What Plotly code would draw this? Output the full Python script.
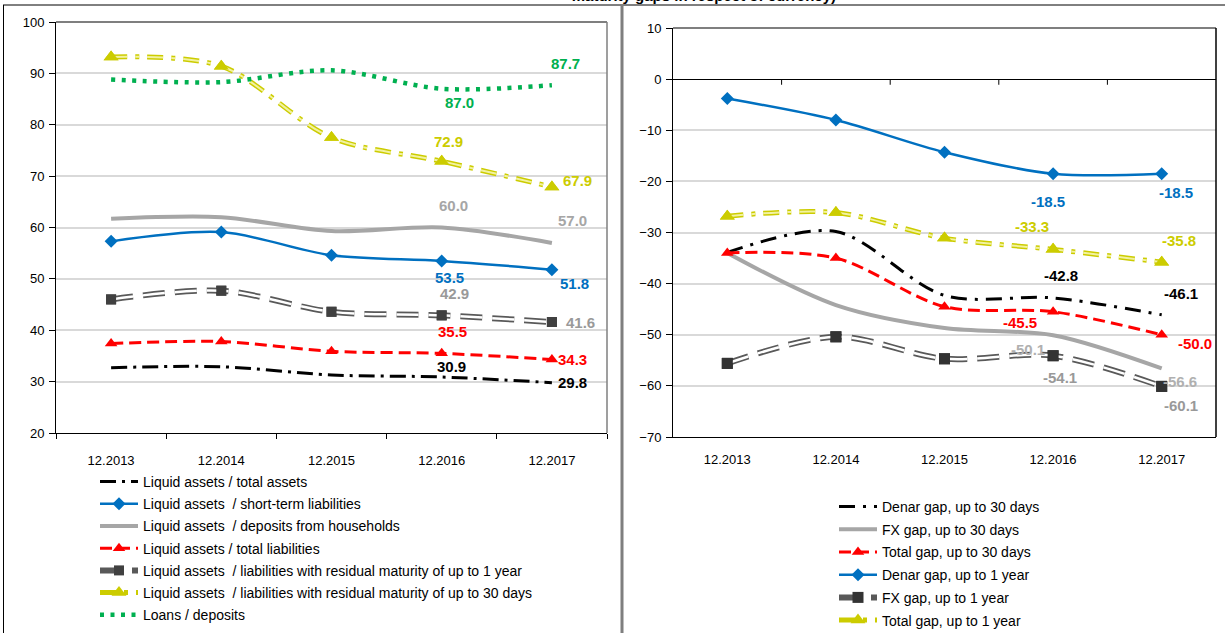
import plotly.graph_objects as go

W, H = 1225, 633
H_FIG = 660  # figure slightly taller than the window; the window shows the top 633 px

categories = ["12.2013", "12.2014", "12.2015", "12.2016", "12.2017"]

# Left chart series (%)
la_total_assets = [32.7, 32.9, 31.3, 30.9, 29.8]
la_short_term = [57.3, 59.1, 54.6, 53.5, 51.8]
la_households = [61.7, 62.0, 59.3, 60.0, 57.0]
la_total_liab = [37.4, 37.8, 35.9, 35.5, 34.3]
la_liab_1y = [46.0, 47.7, 43.6, 42.9, 41.6]
la_liab_30d = [93.2, 91.4, 77.5, 72.9, 67.9]
loans_deposits = [88.8, 88.3, 90.6, 87.0, 87.7]

# Right chart series (gaps)
denar_30 = [-33.9, -29.8, -42.3, -42.8, -46.1]
fx_30 = [-34.0, -44.2, -48.7, -50.1, -56.6]
total_30 = [-34.0, -35.0, -44.5, -45.5, -50.0]
denar_1y = [-3.8, -8.0, -14.3, -18.5, -18.5]
fx_1y = [-55.6, -50.4, -54.7, -54.1, -60.1]
total_1y = [-26.8, -26.1, -31.1, -33.3, -35.8]

FONT = "Liberation Sans, Arial, sans-serif"
BLUE = "#0070C0"
GREEN = "#00B050"
RED = "#FF0000"
YEL = "#CCCC00"
GRAY = "#A6A6A6"
DARK = "#333333"
OUTL = "#595959"

fig = go.Figure()
gi = [0]
labels = []


def add_series(ax, name, vals, color, width, dash, legend, marker=None,
               double=None, lab_offsets=None, lab_color=None):
    xa, ya = ax
    gi[0] += 1
    grp = "g%d" % gi[0]
    mode = "lines+markers" if marker else "lines"
    fig.add_trace(go.Scatter(
        x=categories, y=vals, name=name, mode=mode, xaxis=xa, yaxis=ya,
        line=dict(color=color, width=width, dash=dash, shape="spline", smoothing=0.9),
        marker=marker, legend=legend, legendgroup=grp, showlegend=True,
        hoverinfo="skip"))
    if double:
        fig.add_trace(go.Scatter(
            x=categories, y=vals, mode="lines", xaxis=xa, yaxis=ya,
            line=dict(color=double[0], width=double[1], dash=dash, shape="spline", smoothing=0.9),
            showlegend=False, legend=legend, legendgroup=grp, hoverinfo="skip"))
        if marker:
            fig.add_trace(go.Scatter(
                x=categories, y=vals, mode="markers", xaxis=xa, yaxis=ya,
                marker=marker, showlegend=False, legend=legend, legendgroup=grp,
                hoverinfo="skip"))
    if lab_offsets:
        for idx, (dx, dy) in zip((3, 4), lab_offsets):
            labels.append(dict(
                x=idx, y=vals[idx], xref=xa, yref=ya,
                text="<b>%.1f</b>" % vals[idx], showarrow=False,
                xshift=dx, yshift=dy,
                font=dict(family=FONT, size=15, color=lab_color or color)))


L = ("x", "y")
R = ("x2", "y2")

# ---- Left chart ----
add_series(L, "Liquid assets / total assets", la_total_assets, "black", 3,
           "16px,6px,3px,6px", "legend",
           lab_offsets=[(10, 11), (21, 0)], lab_color="black")
add_series(L, "Liquid assets  / short-term liabilities", la_short_term, BLUE, 2.5,
           "solid", "legend", marker=dict(symbol="diamond", size=10, color=BLUE),
           lab_offsets=[(8, -17), (23, -14)])
add_series(L, "Liquid assets  / deposits from households", la_households, GRAY, 4,
           "solid", "legend", lab_offsets=[(12, 22), (21, 22)])
add_series(L, "Liquid assets / total liabilities", la_total_liab, RED, 3,
           "12px,6px", "legend", marker=dict(symbol="triangle-up", size=11, color=RED),
           lab_offsets=[(11, 22), (21, 0)])
add_series(L, "Liquid assets  / liabilities with residual maturity of up to 1 year",
           la_liab_1y, OUTL, 6, "22px,10px", "legend",
           marker=dict(symbol="square", size=10, color="#404040"),
           double=("white", 2.5), lab_offsets=[(13, 22), (29, 0)], lab_color="#999999")
add_series(L, "Liquid assets  / liabilities with residual maturity of up to 30 days",
           la_liab_30d, YEL, 5, "16px,8px,4px,8px", "legend",
           marker=dict(symbol="triangle-up", size=13, color=YEL),
           double=("#F2F2A0", 2), lab_offsets=[(7, 20), (26, 6)])
add_series(L, "Loans / deposits", loans_deposits, GREEN, 4.5, "4px,6.5px", "legend",
           lab_offsets=[(18, -14), (14, 22)])

# ---- Right chart ----
add_series(R, "Denar gap, up to 30 days", denar_30, "black", 3,
           "16px,8px,3px,8px", "legend2",
           lab_offsets=[(8, 22), (19, 21)], lab_color="black")
add_series(R, "FX gap, up to 30 days", fx_30, GRAY, 4, "solid", "legend2",
           lab_offsets=[(-25, -14), (18, -13)], lab_color="#B0B0B0")
add_series(R, "Total gap, up to 30 days", total_30, RED, 3, "12px,6px", "legend2",
           marker=dict(symbol="triangle-up", size=11, color=RED),
           lab_offsets=[(-33, -11), (33, -9)])
add_series(R, "Denar gap, up to 1 year", denar_1y, BLUE, 2.5, "solid", "legend2",
           marker=dict(symbol="diamond", size=10, color=BLUE),
           lab_offsets=[(-5, -28), (14, -19)])
add_series(R, "FX gap, up to 1 year", fx_1y, OUTL, 6, "22px,10px", "legend2",
           marker=dict(symbol="square", size=11, color=DARK),
           double=("white", 2.5), lab_offsets=[(7, -22), (19, -19)], lab_color="#999999")
add_series(R, "Total gap, up to 1 year", total_1y, YEL, 5, "16px,8px,4px,8px", "legend2",
           marker=dict(symbol="triangle-up", size=13, color=YEL),
           double=("#F2F2A0", 2), lab_offsets=[(-21, 23), (17, 22)])


def px_x(p):
    return p / W


def px_y(p):
    return 1 - p / H_FIG


axis_font = dict(family=FONT, size=13, color="black")
leg_font = dict(family=FONT, size=14, color="black")

fig.update_layout(
    width=W, height=H_FIG,
    autosize=False,
    margin=dict(l=0, r=0, t=0, b=0, autoexpand=False),
    paper_bgcolor="white", plot_bgcolor="white",
    font=dict(family=FONT, color="black"),
    showlegend=True,
    # partially visible title of the right panel (cut at the top edge)
    title=dict(text="<b>maturity gaps in respect of currency)</b>",
               x=px_x(836), xref="container", xanchor="right",
               y=1 - 1 / H_FIG, yref="container", yanchor="bottom",
               automargin=False,
               font=dict(family=FONT, size=15, color="black")),
    annotations=labels,
    xaxis=dict(domain=[px_x(56), px_x(607)], anchor="y", type="category",
               categoryorder="array", categoryarray=categories,
               range=[-0.5, 4.5], tickson="boundaries", ticks="outside", ticklen=5,
               tickcolor="black", showline=True, linecolor="black", linewidth=1,
               showgrid=False, tickfont=axis_font, ticklabelstandoff=15,
               automargin=False, fixedrange=True),
    yaxis=dict(domain=[px_y(433), px_y(22)], anchor="x", range=[20, 100], dtick=10,
               ticks="outside", ticklen=6, tickcolor="black", showline=True,
               linecolor="black", linewidth=1, gridcolor="#D9D9D9", gridwidth=1.5,
               zeroline=False, tickfont=axis_font, ticklabelstandoff=2,
               automargin=False, fixedrange=True),
    xaxis2=dict(domain=[px_x(673), px_x(1216)], anchor="y2", type="category",
                categoryorder="array", categoryarray=categories,
                range=[-0.5, 4.5], ticks="", showline=True, linecolor="black",
                linewidth=1, showgrid=False, tickfont=axis_font, ticklabelstandoff=10,
                automargin=False, fixedrange=True),
    yaxis2=dict(domain=[px_y(437), px_y(28)], anchor="x2", range=[-70, 10], dtick=10,
                ticks="outside", ticklen=6, tickcolor="black", showline=True,
                linecolor="black", linewidth=1, gridcolor="#D9D9D9", gridwidth=1.5,
                zeroline=True, zerolinecolor="black", zerolinewidth=1,
                tickfont=axis_font, ticklabelstandoff=2,
                automargin=False, fixedrange=True),
    legend=dict(x=px_x(95), y=px_y(466), xanchor="left", yanchor="top",
                font=leg_font, bgcolor="rgba(0,0,0,0)", itemwidth=38,
                traceorder="grouped", tracegroupgap=1,
                itemclick=False, itemdoubleclick=False),
    legend2=dict(x=px_x(834), y=px_y(491), xanchor="left", yanchor="top",
                 font=leg_font, bgcolor="rgba(0,0,0,0)", itemwidth=38,
                 traceorder="grouped", tracegroupgap=1.5,
                 itemclick=False, itemdoubleclick=False),
)

shapes = []
# plot-area frames (grey top/right)
for xr, yr in (("x domain", "y domain"), ("x2 domain", "y2 domain")):
    shapes.append(dict(type="line", xref=xr, yref=yr, x0=0, x1=1, y0=1, y1=1,
                       line=dict(color="#7F7F7F", width=2)))
shapes.append(dict(type="line", xref="x domain", yref="y domain", x0=1, x1=1, y0=0, y1=1,
                   line=dict(color="#7F7F7F", width=1.5)))
shapes.append(dict(type="line", xref="x2 domain", yref="y2 domain", x0=1, x1=1, y0=0, y1=1,
                   line=dict(color="black", width=1.5)))
# category ticks on the zero line of the right chart
for b in (0.5, 1.5, 2.5, 3.5):
    shapes.append(dict(type="line", xref="x2", yref="y2", x0=b, x1=b, y0=0, y1=-1.1,
                       line=dict(color="black", width=1)))
# outer frame and panel separator
shapes.append(dict(type="line", xref="paper", yref="paper", x0=px_x(3), x1=1.01,
                   y0=px_y(5), y1=px_y(5), line=dict(color="black", width=1)))
shapes.append(dict(type="line", xref="paper", yref="paper", x0=px_x(3.5), x1=px_x(3.5),
                   y0=-0.01, y1=px_y(5), line=dict(color="black", width=1)))
shapes.append(dict(type="line", xref="paper", yref="paper", x0=px_x(622), x1=px_x(622),
                   y0=-0.01, y1=px_y(5), line=dict(color="#7F7F7F", width=3)))
fig.update_layout(shapes=shapes)

fig.write_html(
    "out.html",
    config={"displayModeBar": False, "responsive": False},
    post_script=(
        "var d=document;"
        "d.documentElement.style.cssText='margin:0;padding:0;overflow:hidden;height:633px;';"
        "d.body.style.cssText='margin:0;padding:0;overflow:hidden;height:633px;';"
        "var g=d.getElementById('{plot_id}');"
        "g.style.position='fixed';g.style.top='0px';g.style.left='0px';"
    ),
)
